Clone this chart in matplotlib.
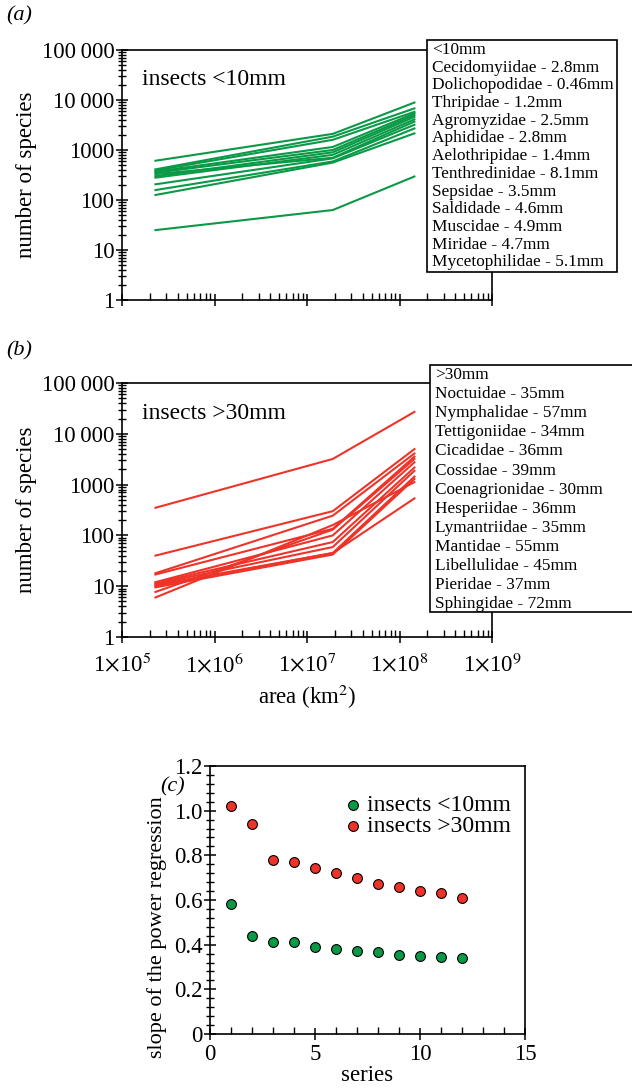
import matplotlib
matplotlib.use("Agg")
import matplotlib.pyplot as plt
import numpy as np
from matplotlib.patches import Rectangle
from matplotlib.ticker import LogLocator, NullFormatter, FixedLocator, MultipleLocator

plt.rcParams['font.family'] = ['Liberation Serif', 'DejaVu Serif']
plt.rcParams['mathtext.fontset'] = 'stix'

# areas (km2) of the three regions
area = [2.3e5, 1.9e7, 1.45e8]

small_names = ["Cecidomyiidae - 2.8mm", "Dolichopodidae - 0.46mm", "Thripidae - 1.2mm",
               "Agromyzidae - 2.5mm", "Aphididae - 2.8mm", "Aelothripidae - 1.4mm",
               "Tenthredinidae - 8.1mm", "Sepsidae - 3.5mm", "Saldidade - 4.6mm",
               "Muscidae - 4.9mm", "Miridae - 4.7mm", "Mycetophilidae - 5.1mm"]
small_start = [610, 410, 390, 370, 350, 300, 280, 330, 206, 158, 126, 25]
small_mid = [2100, 1850, 1600, 1150, 1000, 900, 800, 700, 680, 590, 560, 63]
small_end = [8900, 6800, 5800, 5400, 5000, 4600, 4100, 3700, 3200, 2700, 2150, 295]

large_names = ["Noctuidae - 35mm", "Nymphalidae - 57mm", "Tettigoniidae - 34mm",
               "Cicadidae - 36mm", "Cossidae - 39mm", "Coenagrionidae - 30mm",
               "Hesperiidae - 36mm", "Lymantriidae - 35mm", "Mantidae - 55mm",
               "Libellulidae - 45mm", "Pieridae - 37mm", "Sphingidae - 72mm"]
large_start = [350, 40, 18, 17, 12, 11.5, 11, 10.5, 10, 9.5, 7.7, 6]
large_mid = [3200, 300, 245, 135, 100, 74, 59, 45, 45, 42, 130, 160]
large_end = [27000, 5000, 4100, 3550, 2750, 2170, 1870, 1440, 535, 1290, 3200, 1120]

series = list(range(1, 13))
slope_small = [0.58, 0.44, 0.41, 0.41, 0.39, 0.38, 0.37, 0.365, 0.355, 0.35, 0.345, 0.34]
slope_large = [1.02, 0.94, 0.78, 0.77, 0.745, 0.72, 0.70, 0.67, 0.66, 0.64, 0.63, 0.61]

green = '#0a9a47'
red = '#ee3329'
W, H = 632, 1090
TICK_FS = 16.5
LAB_FS = 16.5

fig = plt.figure(figsize=(W / 100, H / 100), dpi=100)


def px_axes(l, t, r, b):
    return fig.add_axes([l / W, 1 - b / H, (r - l) / W, (b - t) / H])


def ticks_style(ax):
    ax.tick_params(axis='y', which='major', direction='inout', length=9, width=1.1, labelsize=TICK_FS, pad=1)
    ax.tick_params(axis='y', which='minor', direction='inout', length=6, width=1.0)
    ax.tick_params(axis='x', which='major', direction='inout', length=9, width=1.1, labelsize=TICK_FS, pad=7)
    ax.tick_params(axis='x', which='minor', direction='in', length=5, width=1.0)
    for s in ax.spines.values():
        s.set_linewidth(1.2)


def style_log(ax, xlabels):
    ax.set_xscale('log')
    ax.set_yscale('log')
    ax.set_xlim(1e5, 1e9)
    ax.set_ylim(1, 1e5)
    ax.xaxis.set_minor_locator(LogLocator(base=10, subs=np.arange(2, 10), numticks=10))
    ax.yaxis.set_minor_locator(LogLocator(base=10, subs=np.arange(2, 10), numticks=10))
    ax.xaxis.set_minor_formatter(NullFormatter())
    ax.yaxis.set_minor_formatter(NullFormatter())
    ax.set_yticks([1, 10, 100, 1000, 10000, 100000])
    ax.set_yticklabels(['1', '10', '100', '1000', '10\u2009000', '100\u2009000'])
    ax.set_xticks([1e5, 1e6, 1e7, 1e8, 1e9])
    if xlabels:
        ax.set_xticklabels([r'1$\times$10$^{%d}$' % k for k in range(5, 10)])
    else:
        ax.set_xticklabels([])
    ticks_style(ax)
    ax.set_ylabel('number of species', fontsize=LAB_FS, labelpad=3)


def legend_box(x0, y0, x1, y1, header, names, step):
    fig.add_artist(Rectangle((x0 / W, 1 - y1 / H), (x1 - x0) / W, (y1 - y0) / H,
                             transform=fig.transFigure, facecolor='white',
                             edgecolor='black', lw=1.2, zorder=5))
    for i, t in enumerate([header] + names):
        fig.text((x0 + 5) / W, 1 - (y0 + 10 + i * step) / H, t, fontsize=12.4,
                 va='center', ha='left', zorder=6)


# panel a
ax1 = px_axes(122, 50, 492, 300)
for s, m, e in zip(small_start, small_mid, small_end):
    ax1.plot(area, [s, m, e], color=green, lw=1.5)
style_log(ax1, False)
ax1.text(1.65e5, 2.0e4, 'insects <10mm', fontsize=17)
legend_box(427, 40, 617, 272, '<10mm', small_names, 17.7)

# panel b
ax2 = px_axes(122, 383, 492, 637)
for s, m, e in zip(large_start, large_mid, large_end):
    ax2.plot(area, [s, m, e], color=red, lw=1.5)
style_log(ax2, True)
ax2.text(1.65e5, 2.0e4, 'insects >30mm', fontsize=17)
ax2.set_xlabel('area (km$^2$)', fontsize=LAB_FS, labelpad=4)
legend_box(430, 365, 645, 612, '>30mm', large_names, 19.1)

# panel c
ax3 = px_axes(210, 766, 525, 1034)
ax3.scatter(series, slope_small, s=50, c=green, edgecolors='black', linewidths=0.8,
            zorder=3, label='insects <10mm')
ax3.scatter(series, slope_large, s=50, c=red, edgecolors='black', linewidths=0.8,
            zorder=3, label='insects >30mm')
ax3.set_xlim(0, 15)
ax3.set_ylim(0, 1.2)
ax3.xaxis.set_major_locator(MultipleLocator(5))
ax3.xaxis.set_minor_locator(MultipleLocator(1))
ax3.yaxis.set_major_locator(FixedLocator([0, 0.2, 0.4, 0.6, 0.8, 1.0, 1.2]))
ax3.yaxis.set_minor_locator(MultipleLocator(0.04))
ax3.set_yticklabels(['0', '0.2', '0.4', '0.6', '0.8', '1.0', '1.2'])
ticks_style(ax3)
ax3.tick_params(axis='x', which='major', pad=3)
ax3.set_xlabel('series', fontsize=LAB_FS, labelpad=0)
ax3.set_ylabel('slope of the power regression', fontsize=16)
ax3.yaxis.set_label_coords(-0.135, 0.40)
ax3.legend(loc='upper right', frameon=False, fontsize=17, handletextpad=-0.4,
           borderaxespad=0.0, labelspacing=0.0, bbox_to_anchor=(0.985, 0.93))

fig.text(6 / W, 1 - 16 / H, '(a)', fontsize=16, style='italic', va='center')
fig.text(6 / W, 1 - 351 / H, '(b)', fontsize=16, style='italic', va='center')
fig.text(160 / W, 1 - 787 / H, '(c)', fontsize=16, style='italic', va='center')

fig.savefig('out.png', dpi=100)
